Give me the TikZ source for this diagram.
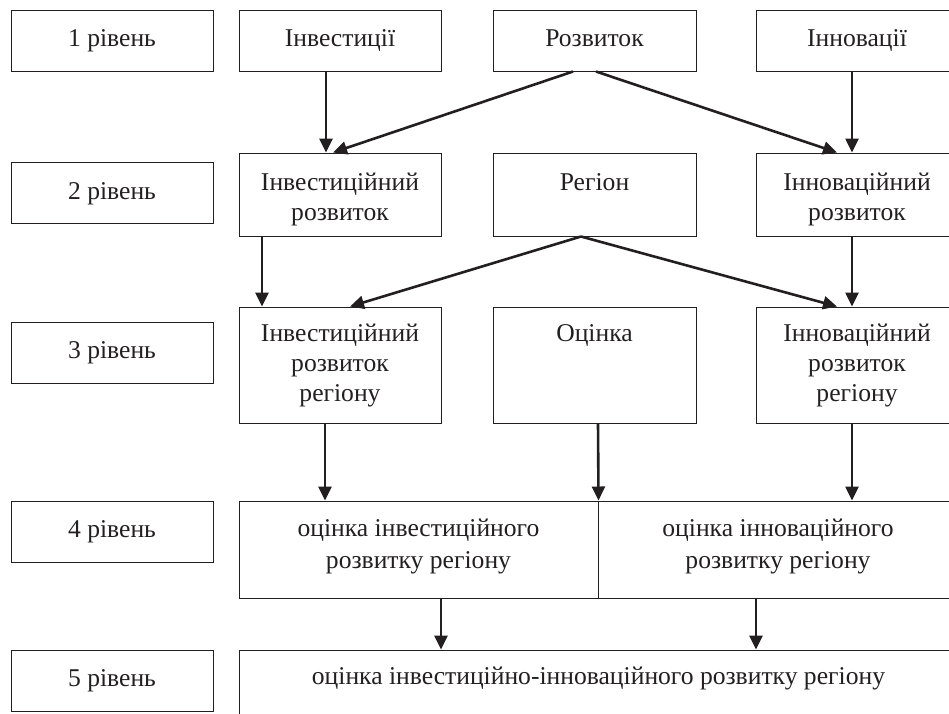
\documentclass[tikz,border=0pt]{standalone}
\usepackage{fontspec}
\setmainfont{Liberation Serif}
\usetikzlibrary{arrows.meta}
\newcommand\vst[2]{\rule[-#2]{0pt}{\dimexpr#1+#2\relax}}
\definecolor{ink}{HTML}{231F20}
\begin{document}
\begin{tikzpicture}[x=1pt,y=-1pt,
  box/.style={draw=ink, line width=1pt, rectangle, inner sep=0pt, align=center,
    font=\fontsize{25.6}{30}\selectfont, text=ink},
  lvl/.style={box, minimum width=202pt, minimum height=61pt},
  colbox/.style={box, minimum width=202pt},
  arr/.style={draw=ink, line width=2.6pt, -{Triangle[length=14pt,width=13pt]}}
]
\useasboundingbox (0,0) rectangle (949,713);
\clip (0,0) rectangle (949,713);
% level labels
\node[lvl] (L1) at (112,40.5) {\vst{20pt}{8pt}1 рівень};
\node[lvl] (L2) at (112,193) {\vst{20pt}{8pt}2 рівень};
\node[lvl] (L3) at (112,352.5) {\vst{20pt}{8pt}3 рівень};
\node[lvl] (L4) at (112,531.5) {\vst{20pt}{8pt}4 рівень};
\node[lvl] (L5) at (112,680.5) {\vst{20pt}{8pt}5 рівень};
% level 1
\node[colbox, minimum height=61pt] (inv1) at (340,40.5) {\vst{20pt}{8pt}Інвестиції};
\node[colbox, minimum width=203pt, minimum height=61pt] (roz1) at (594.5,40.5) {\vst{20pt}{8pt}Розвиток};
\node[colbox, minimum height=61pt] (inn1) at (857,40.5) {\vst{20pt}{8pt}Інновації};
% level 2
\node[colbox, minimum height=83pt] (inv2) at (340,194.5) {\vst{28pt}{0pt}Інвестиційний\\розвиток\vst{0pt}{6pt}};
\node[colbox, minimum width=203pt, minimum height=83pt] (reg2) at (594.5,194.5) {\vst{28pt}{0pt}Регіон\\\vst{0pt}{6pt}};
\node[colbox, minimum height=83pt] (inn2) at (857,194.5) {\vst{28pt}{0pt}Інноваційний\\розвиток\vst{0pt}{6pt}};
% level 3
\node[colbox, minimum height=116pt] (inv3) at (340,365) {\vst{20pt}{0pt}Інвестиційний\\розвиток\\регіону\vst{0pt}{7pt}};
\node[colbox, minimum width=203pt, minimum height=116pt] (ocn3) at (594.5,365) {\vst{20pt}{0pt}Оцінка\\\mbox{}\\\vst{0pt}{7pt}};
\node[colbox, minimum height=116pt] (inn3) at (857,365) {\vst{20pt}{0pt}Інноваційний\\розвиток\\регіону\vst{0pt}{7pt}};
% level 4
\node[box, minimum width=359pt, minimum height=97pt, font=\fontsize{25.6}{32}\selectfont] (inv4) at (418.5,549.5) {\vst{18pt}{0pt}оцінка інвестиційного\\розвитку регіону\vst{0pt}{13pt}};
\node[box, minimum width=360pt, minimum height=97pt, font=\fontsize{25.6}{32}\selectfont] (inn4) at (778,549.5) {\vst{18pt}{0pt}оцінка інноваційного\\розвитку регіону\vst{0pt}{13pt}};
% level 5
\node[box, minimum width=719pt, minimum height=80pt] (all5) at (598.5,690) {\vst{18pt}{28.6pt}оцінка інвестиційно-інноваційного розвитку регіону};
% connectors
\draw[arr] ([xshift=-14pt]inv1.south) -- ([xshift=-14pt]inv2.north);
\draw[arr] ([xshift=-21.5pt]roz1.south) -- ([xshift=-7pt]inv2.north);
\draw[arr] ([xshift=1.5pt]roz1.south) -- ([xshift=-20pt]inn2.north);
\draw[arr] ([xshift=-5pt]inn1.south) -- ([xshift=-5pt]inn2.north);
\draw[arr] ([xshift=-78pt]inv2.south) -- ([xshift=-78pt]inv3.north);
\draw[arr] ([xshift=-13.5pt]reg2.south) -- ([xshift=10pt]inv3.north);
\draw[arr] ([xshift=-13.5pt]reg2.south) -- ([xshift=-20pt]inn3.north);
\draw[arr] ([xshift=-5pt]inn2.south) -- ([xshift=-5pt]inn3.north);
\draw[arr] ([xshift=-15pt]inv3.south) -- ([xshift=-93.5pt]inv4.north);
\draw[arr] ([xshift=3.5pt]ocn3.south) -- (inv4.north east);
\draw[arr] ([xshift=-5pt]inn3.south) -- ([xshift=74pt]inn4.north);
\draw[arr] ([xshift=22.5pt]inv4.south) -- ([xshift=-157.5pt]all5.north);
\draw[arr] ([xshift=-22pt]inn4.south) -- ([xshift=157.5pt]all5.north);
\end{tikzpicture}
\end{document}
